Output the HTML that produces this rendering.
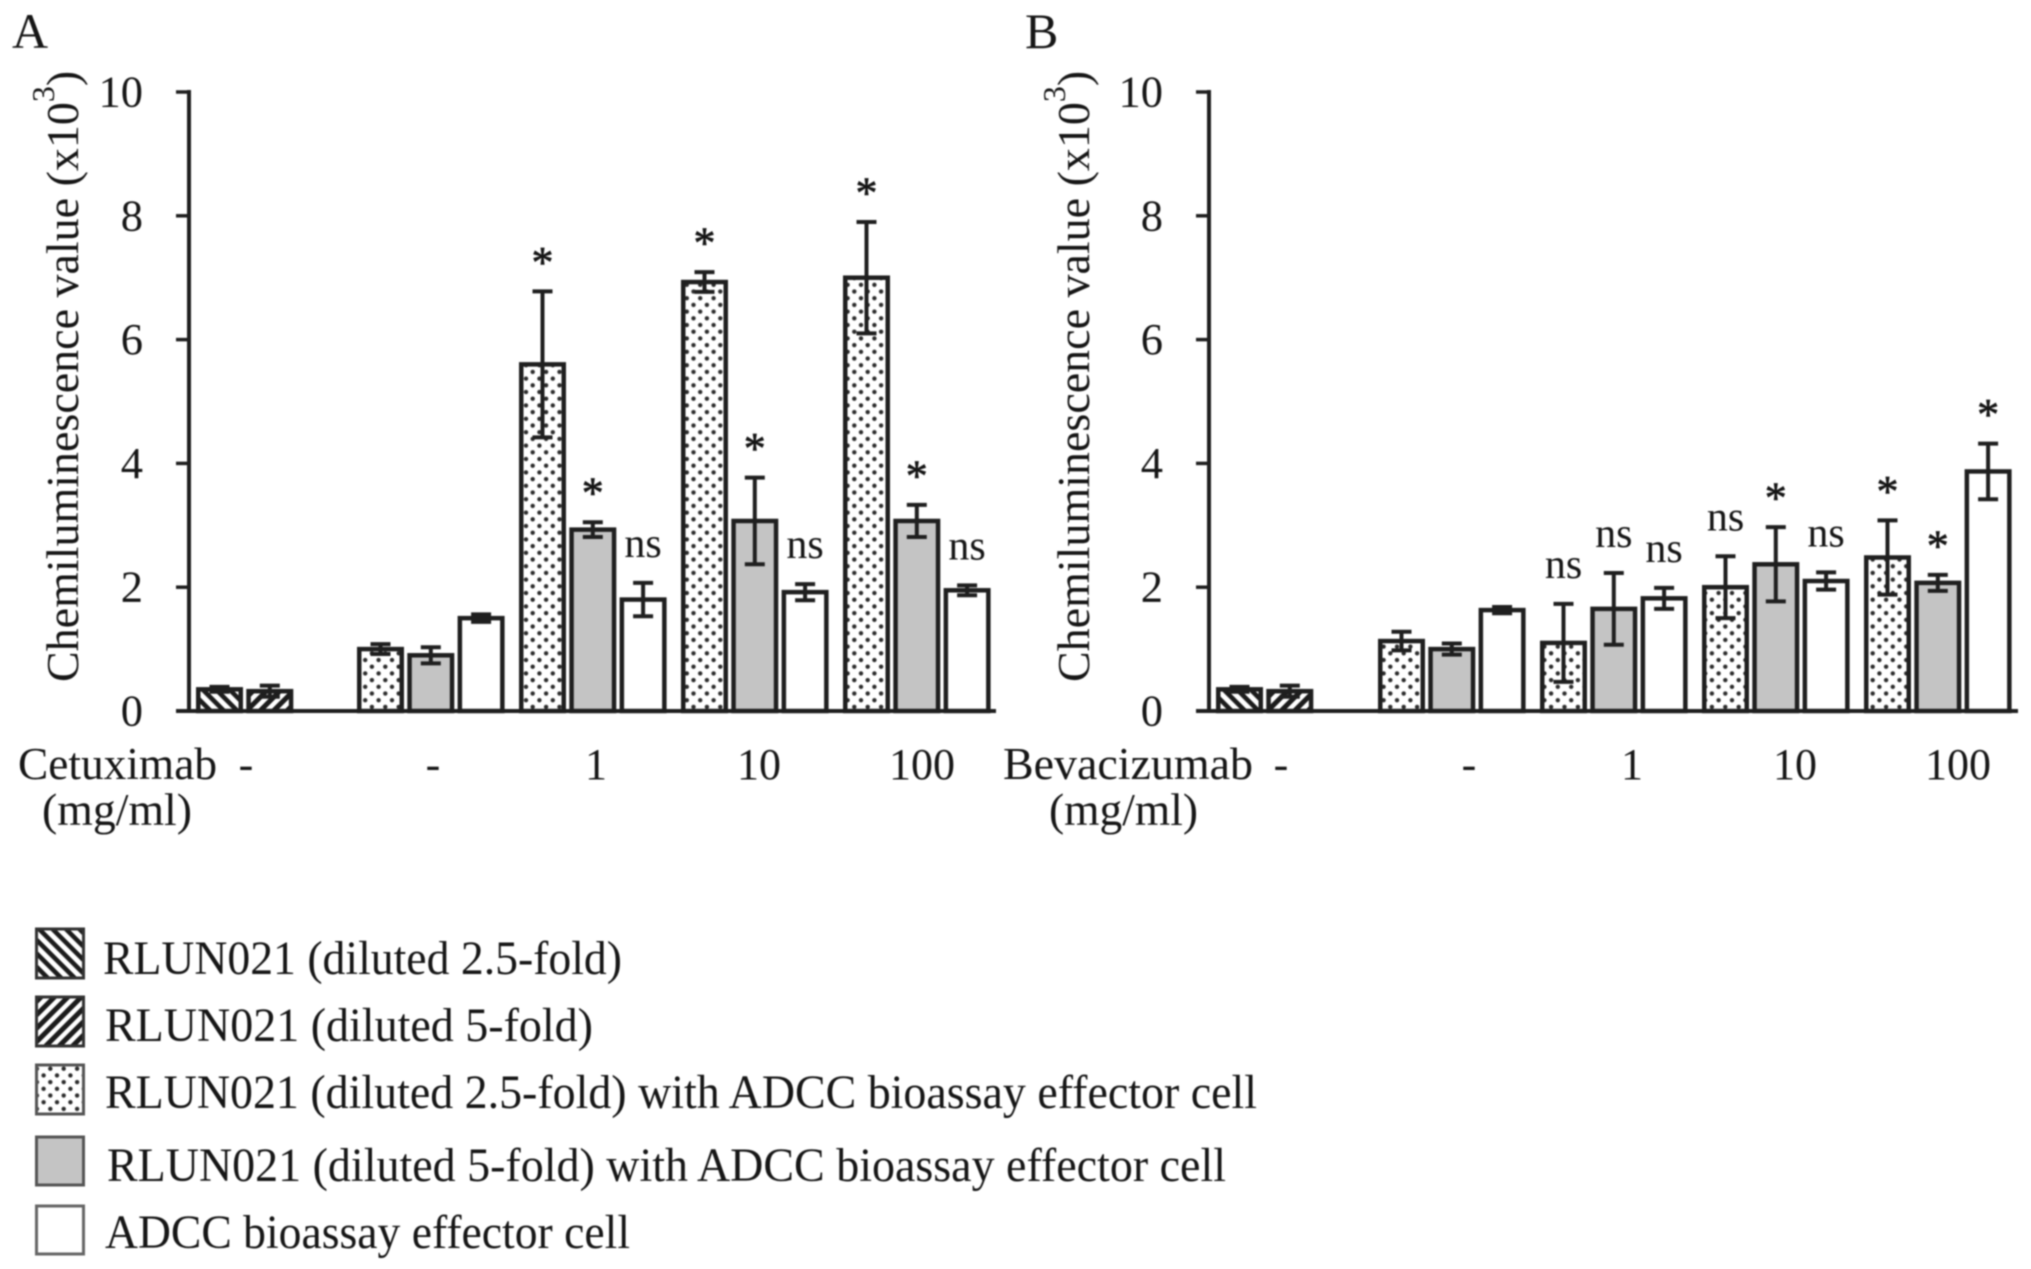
<!DOCTYPE html>
<html lang="en">
<head>
<meta charset="utf-8">
<title>Chemiluminescence ADCC bioassay chart</title>
<style>
html,body{margin:0;padding:0;background:#fff;width:2031px;height:1269px;overflow:hidden}
svg{display:block;filter:blur(0.7px)}
text{font-family:"Liberation Serif",serif;fill:#161616}
</style>
</head>
<body>
<svg id="chart" xmlns="http://www.w3.org/2000/svg" width="2031" height="1269" viewBox="0 0 2031 1269">
  <defs>
    <pattern id="hatch-down" width="9.5" height="9.5" patternUnits="userSpaceOnUse" patternTransform="rotate(45)">
      <rect width="9.5" height="9.5" fill="#fff"/><rect width="9.5" height="4.6" fill="#1c1c1c"/>
    </pattern>
    <pattern id="hatch-up" width="9.5" height="9.5" patternUnits="userSpaceOnUse" patternTransform="rotate(-45)">
      <rect width="9.5" height="9.5" fill="#fff"/><rect width="9.5" height="5" fill="#1c1c1c"/>
    </pattern>
    <pattern id="dots" width="13.4" height="13.4" patternUnits="userSpaceOnUse">
      <rect width="13.4" height="13.4" fill="#fff"/>
      <circle cx="3.4" cy="3.4" r="2.2" fill="#2c2c2c"/>
      <circle cx="10.1" cy="10.1" r="2.2" fill="#2c2c2c"/>
    </pattern>
  </defs>

  <text x="12" y="48" font-size="50">A</text>
  <text x="1025" y="48" font-size="50">B</text>

  <g id="panel-a"></g>
  <g id="panel-b"></g>

  <g font-size="45">
    <text x="18" y="779" textLength="199" lengthAdjust="spacingAndGlyphs">Cetuximab</text>
    <text x="42" y="825" textLength="150" lengthAdjust="spacingAndGlyphs">(mg/ml)</text>
  </g>
  <g font-size="45">
    <text x="1003" y="779" textLength="250" lengthAdjust="spacingAndGlyphs">Bevacizumab</text>
    <text x="1049" y="825" textLength="149" lengthAdjust="spacingAndGlyphs">(mg/ml)</text>
  </g>

  <g font-size="47.5">
    <g>
      <rect x="36.5" y="929" width="47" height="49" fill="url(#hatch-down)" stroke="#333" stroke-width="3"/>
      <text x="103" y="974" textLength="519" lengthAdjust="spacingAndGlyphs">RLUN021 (diluted 2.5-fold)</text>
    </g>
    <g>
      <rect x="36.5" y="997" width="47" height="49" fill="url(#hatch-up)" stroke="#333" stroke-width="3"/>
      <text x="105" y="1041" textLength="488" lengthAdjust="spacingAndGlyphs">RLUN021 (diluted 5-fold)</text>
    </g>
    <g>
      <rect x="36.5" y="1065" width="47" height="49" fill="url(#dots)" stroke="#555" stroke-width="3"/>
      <text x="105" y="1108" textLength="1152" lengthAdjust="spacingAndGlyphs">RLUN021 (diluted 2.5-fold) with ADCC bioassay effector cell</text>
    </g>
    <g>
      <rect x="36.5" y="1137" width="47" height="48" fill="#c4c4c4" stroke="#555" stroke-width="3"/>
      <text x="107" y="1181" textLength="1119" lengthAdjust="spacingAndGlyphs">RLUN021 (diluted 5-fold) with ADCC bioassay effector cell</text>
    </g>
    <g>
      <rect x="36.5" y="1206" width="47" height="48" fill="#fff" stroke="#666" stroke-width="3"/>
      <text x="105" y="1248" textLength="525" lengthAdjust="spacingAndGlyphs">ADCC bioassay effector cell</text>
    </g>
  </g>
</svg>

<script>
const yTicks = [0, 2, 4, 6, 8, 10];
const doseLabels = ['-', '-', '1', '10', '100'];

const panelAValues = [0.35, 0.32, 1.0, 0.9, 1.5, 5.6, 2.93, 1.8, 6.93, 3.07, 1.92, 7.0, 3.07, 1.95];
const panelAErrors = [0.04, 0.09, 0.08, 0.13, 0.06, 1.18, 0.12, 0.27, 0.16, 0.7, 0.13, 0.9, 0.26, 0.08];
const panelAMarks = ['', '', '', '', '', '*', '*', 'ns', '*', '*', 'ns', '*', '*', 'ns'];

const panelBValues = [0.35, 0.32, 1.13, 1.0, 1.63, 1.1, 1.65, 1.82, 2.0, 2.37, 2.1, 2.48, 2.07, 3.87];
const panelBErrors = [0.04, 0.09, 0.15, 0.09, 0.05, 0.63, 0.58, 0.17, 0.5, 0.6, 0.14, 0.6, 0.13, 0.45];
const panelBMarks = ['', '', '', '', '', 'ns', 'ns', 'ns', 'ns', '*', 'ns', '*', '*', '*'];

const SVGNS = 'http://www.w3.org/2000/svg';
const INK = '#1f1f1f';
const Y0 = 711;
const UNIT = 61.9;
const BAR_W = 42.5;
const SERIES_FILL = ['url(#hatch-down)', 'url(#hatch-up)', 'url(#dots)', '#c4c4c4', '#fff'];

function yScale(v) { return Y0 - v * UNIT; }

function make(parent, tag, attrs, content) {
  const node = document.createElementNS(SVGNS, tag);
  for (const k in attrs) node.setAttribute(k, attrs[k]);
  if (content !== undefined) node.textContent = content;
  parent.appendChild(node);
  return node;
}

function seriesOf(i) { return i < 2 ? i : 2 + (i - 2) % 3; }

function drawPanel(cfg) {
  const g = cfg.group;
  const axisX = cfg.axisX;

  function xCenter(i) {
    if (i < 2) return cfg.firstBar + i * cfg.pitch + 22.5;
    const n = i - 2;
    return cfg.groupStart + Math.floor(n / 3) * cfg.groupPitch + (n % 3) * cfg.pitch + 22.5;
  }

  const yAxis = make(g, 'line', {x1: axisX, x2: axisX, y1: yScale(10) - 2, y2: yScale(0), stroke: INK, 'stroke-width': 4});
  
  

  yTicks.forEach(function (t) {
    const tick = make(g, 'line', {x1: axisX - 13, x2: axisX, y1: yScale(t), y2: yScale(t), stroke: INK, 'stroke-width': 3.5});
    
    
    const label = make(g, 'text', {x: axisX - 46, y: yScale(t) + 14.5, 'font-size': 44.5, 'text-anchor': 'end'}, String(t));
    
    
  });

  const title = make(g, 'text', {transform: 'translate(' + cfg.titleX + ',682) rotate(-90)', 'font-size': 46});
  
  
  make(title, 'tspan', {}, 'Chemiluminescence value (x10');
  make(title, 'tspan', {dy: -24, 'font-size': 32}, '3');
  make(title, 'tspan', {dy: 24}, ')');

  cfg.values.forEach(function (v, i) {
    const cx = xCenter(i);
    const top = yScale(v);
    const bar = make(g, 'rect', {x: cx - BAR_W / 2, y: top, width: BAR_W, height: Y0 - top, fill: SERIES_FILL[seriesOf(i)], stroke: INK, 'stroke-width': 4.5});
    
    

    const err = cfg.errors[i];
    const hi = yScale(v + err);
    const lo = yScale(v - err);
    const stem = make(g, 'line', {x1: cx, x2: cx, y1: hi, y2: lo, stroke: INK, 'stroke-width': 4});
    
    
    [hi, lo].forEach(function (cy) {
      const cap = make(g, 'line', {x1: cx - 10, x2: cx + 10, y1: cy, y2: cy, stroke: INK, 'stroke-width': 4});
      
      
    });

    const mark = cfg.marks[i];
    if (mark === '*') {
      const star = make(g, 'text', {x: cx, y: hi - 14.5, 'font-size': 44, 'text-anchor': 'middle', stroke: '#161616', 'stroke-width': 0.7}, '*');
      
      
    } else if (mark === 'ns') {
      const ns = make(g, 'text', {x: cx, y: hi - 26, 'font-size': 42, 'text-anchor': 'middle'}, 'ns');
      
      
    }
  });

  const baseline = make(g, 'line', {x1: axisX - 13, x2: cfg.axisEnd, y1: Y0, y2: Y0, stroke: INK, 'stroke-width': 4});
  
  

  doseLabels.forEach(function (d, i) {
    const lbl = make(g, 'text', {x: cfg.doseX + (i === 0 ? 0 : cfg.doseGap0 + (i - 1) * cfg.dosePitch), y: 779, 'font-size': 44, 'text-anchor': 'middle'}, d);
    
    
  });
}

drawPanel({
  group: document.getElementById('panel-a'),
  values: panelAValues, errors: panelAErrors, marks: panelAMarks,
  axisX: 189, axisEnd: 996, titleX: 78,
  firstBar: 197, groupStart: 358, groupPitch: 162, pitch: 50.3,
  doseX: 246, doseGap0: 187, dosePitch: 163
});

drawPanel({
  group: document.getElementById('panel-b'),
  values: panelBValues, errors: panelBErrors, marks: panelBMarks,
  axisX: 1209, axisEnd: 2018, titleX: 1089,
  firstBar: 1217, groupStart: 1379, groupPitch: 162, pitch: 50.3,
  doseX: 1281, doseGap0: 188, dosePitch: 163
});
</script>
</body>
</html>
